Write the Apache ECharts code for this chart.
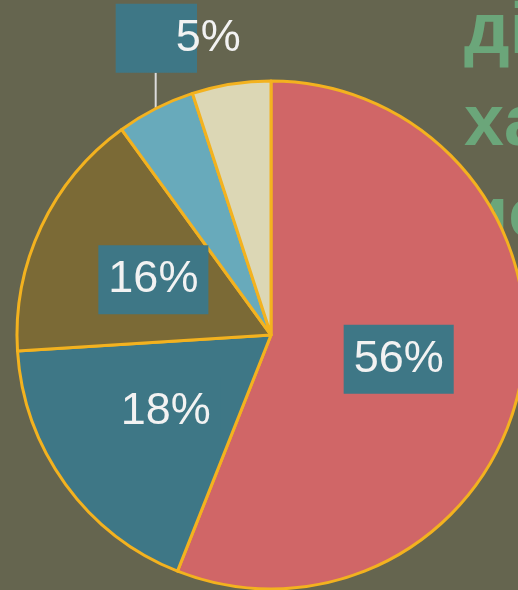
<!DOCTYPE html>
<html>
<head>
<meta charset="utf-8">
<script src="https://cdn.jsdelivr.net/npm/echarts@6/dist/echarts.min.js"></script>
<style>
    html, body { margin: 0; padding: 0; background: #65654f; }
    #main { width: 518px; height: 590px; }
</style>
</head>
<body>
<div id="main"></div>
<script>
// 数据
var categories = ['A', 'B', 'C', 'D', 'E'];
var values = [56, 18, 16, 5, 5];
var titleLines = ['ді', 'ха', 'ис'];

// 颜色
var sliceColors = ['#d06667', '#3e7786', '#7b6a36', '#68aabb', '#dcd7b5'];
var labelBox = '#3e7786';
var edgeColor = '#f3b21f';

var chart = echarts.init(document.getElementById('main'));

var seriesData = values.map(function (v, i) {
    var item = {
        name: categories[i],
        value: v,
        itemStyle: { color: sliceColors[i] }
    };
    // 小扇区：外部标签 + 竖线
    if (i === 3) {
        item.label = {
            position: 'outside',
            padding: [12, 4, 12, 60],
            backgroundColor: new echarts.graphic.LinearGradient(0, 0, 1, 0, [
                { offset: 0, color: labelBox },
                { offset: 0.63, color: labelBox },
                { offset: 0.63, color: 'rgba(0,0,0,0)' },
                { offset: 1, color: 'rgba(0,0,0,0)' }
            ])
        };
        item.labelLine = {
            show: true,
            length: 18,
            length2: 0,
            lineStyle: { color: '#dcdcdc', width: 2 }
        };
    }
    if (i === 4) {
        item.label = { show: false };
    }
    return item;
});

var option = {
    backgroundColor: '#65654f',
    animation: false,
    // 右上角被裁切的标题
    title: {
        text: titleLines.join('\n'),
        left: 459,
        top: -18,
        z: 0,
        textStyle: {
            color: '#6ba67a',
            fontSize: 72,
            fontWeight: 'bold',
            lineHeight: 92,
            fontFamily: 'Liberation Sans'
        }
    },
    series: [{
        type: 'pie',
        z: 2,
        center: [271, 335],
        radius: 254,
        startAngle: 90,
        clockwise: true,
        avoidLabelOverlap: false,
        itemStyle: {
            borderColor: edgeColor,
            borderWidth: 3
        },
        label: {
            show: true,
            position: 'inside',
            formatter: '{c}%',
            fontSize: 45,
            fontFamily: 'Liberation Sans',
            color: '#f2f2f2',
            backgroundColor: labelBox,
            padding: [12, 10]
        },
        labelLine: { show: false },
        emphasis: { disabled: true },
        labelLayout: function (params) {
            if (params.dataIndex !== 3 || !params.labelLinePoints) {
                return {};
            }
            var p0 = params.labelLinePoints[0];
            return {
                x: p0[0] - 40,
                y: p0[1] - 36,
                align: 'left',
                verticalAlign: 'bottom',
                labelLinePoints: [p0, [p0[0], p0[1] - 18], [p0[0], p0[1] - 36]]
            };
        },
        data: seriesData
    }]
};

chart.setOption(option);
</script>
</body>
</html>
